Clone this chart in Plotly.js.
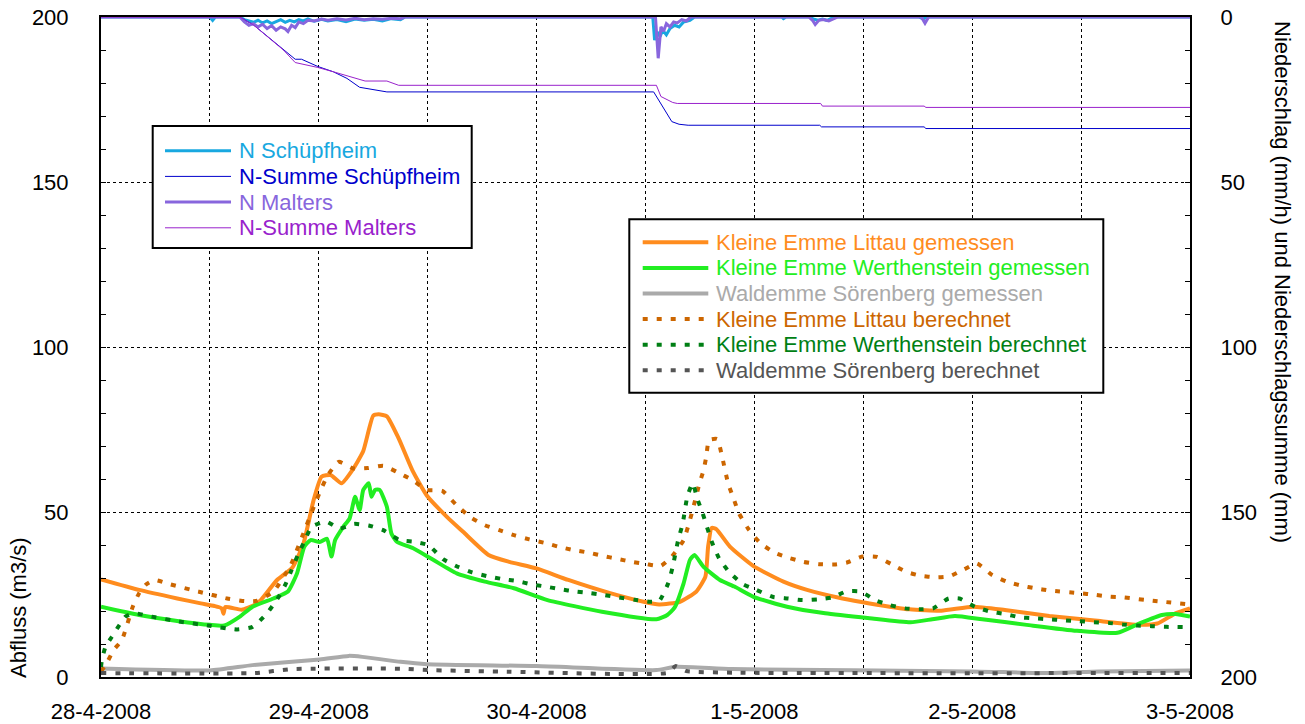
<!DOCTYPE html>
<html>
<head>
<meta charset="utf-8">
<script src="https://cdn.plot.ly/plotly-3.0.1.min.js"></script>
<style>html,body{margin:0;padding:0;background:#fff;}#chart{width:1305px;height:724px;}</style>
</head>
<body>
<div id="chart"></div>
<script>
// ---- data (hours after 28-4-2008 00:00) ----
const tickHours = [0, 12, 24, 36, 48, 60, 72, 84, 96, 108, 120];
const tickLabels = ['28-4-2008', '', '29-4-2008', '', '30-4-2008', '', '1-5-2008', '', '2-5-2008', '', '3-5-2008'];

const littauMeasH = [0, 4.2, 8.4, 11, 12.5, 13.3, 13.5, 13.7, 15.5, 16.9, 17.6, 19.4, 21.1, 22.3, 23.4, 24.3, 25.3, 26.5, 27.7, 28.9, 30, 30.6, 31.5, 32.8, 34.3, 35.9, 38.2, 39.9, 42.7, 45, 48, 51.5, 56.1, 59.8, 61.5, 63.8, 65.6, 66.6, 66.9, 67.3, 67.8, 69.3, 71.9, 75.2, 77.8, 81.7, 84.7, 89.1, 92.6, 96.1, 99.6, 104.5, 109.5, 114.4, 116.4, 118.4, 120];
const littauMeas  = [29.6, 26.4, 23.8, 22.3, 21.5, 20.8, 19.2, 21.2, 20.4, 21.8, 23.3, 29.4, 33.2, 40.3, 53.3, 60.7, 61.2, 58.7, 62.7, 68.5, 79.2, 79.6, 79.0, 72.3, 62.7, 55.0, 48.3, 44.0, 37.0, 34.9, 32.9, 29.4, 25.4, 22.8, 22.0, 22.8, 25.9, 30.4, 39.5, 45.2, 44.8, 39.5, 33.6, 28.9, 26.4, 23.8, 22.3, 20.5, 20.1, 21.3, 20.3, 18.5, 17.1, 15.8, 16.2, 19.3, 20.8];

const werthMeasH = [0, 4.2, 8.4, 12, 13.6, 15.3, 16.7, 19, 20.6, 21.6, 22.4, 23.1, 24.1, 24.9, 25.4, 25.8, 26.7, 27.4, 28, 28.5, 28.9, 29.5, 29.8, 30.2, 30.7, 31.5, 32, 32.6, 34.4, 36.6, 39.2, 42.3, 45.5, 49.2, 55.2, 61.2, 62.4, 63.2, 64.2, 64.9, 65.4, 66.4, 68.2, 69.8, 71.9, 75.6, 79.8, 84.7, 89.2, 91.6, 94.1, 97.1, 102, 107.5, 112, 114.4, 116.9, 118.4, 120];
const werthMeas  = [21.3, 18.8, 17.0, 15.8, 15.6, 18.3, 21.3, 23.8, 25.9, 31.4, 39.5, 41.5, 40.9, 41.9, 36.5, 41.5, 45.5, 48.1, 54.6, 50.6, 56.7, 58.7, 54.6, 56.7, 56.7, 51.6, 43.5, 41.0, 39.0, 35.5, 31.4, 28.9, 26.9, 23.3, 19.8, 17.5, 18.8, 21.0, 28.4, 35.5, 37.0, 33.4, 29.4, 27.4, 24.3, 21.3, 19.3, 17.8, 16.6, 17.5, 18.5, 17.5, 15.8, 14.0, 13.4, 16.2, 18.8, 19.1, 18.3];

const waldMeasH = [0, 12, 16.7, 24.1, 27.3, 28.8, 33, 35.9, 48, 61.2, 63.3, 69.5, 96, 104.5, 110, 120];
const waldMeas  = [2.6, 2.0, 3.6, 5.3, 6.4, 6.1, 4.6, 3.9, 3.3, 2.1, 3.1, 2.4, 1.7, 1.2, 1.7, 2.0];

const littauCalcH = [0, 0.7, 1.4, 2.3, 3.5, 4.2, 4.9, 5.9, 7.6, 10.7, 13.9, 15.8, 17.2, 19, 20.9, 22.3, 23.6, 24.3, 25, 26.2, 27.8, 29.4, 31.1, 32.7, 34.3, 35.9, 37.6, 39.1, 40.7, 42.3, 43.9, 45.5, 47.2, 48.8, 50.4, 52, 53.7, 55.3, 56.9, 58.5, 60.1, 61.7, 62.9, 64.2, 65.1, 65.9, 66.4, 66.7, 67, 67.9, 68.4, 69.1, 69.7, 70.3, 71.3, 72.6, 74.2, 75.8, 77.4, 79.1, 80.8, 82.2, 83.9, 85.5, 87.1, 88.7, 90.3, 92, 93.5, 95.1, 96.5, 98.2, 99.8, 101.4, 102.9, 104.5, 107.8, 109.5, 111.2, 112.7, 115.9, 120];
const littauCalc  = [1.6, 4.6, 8.2, 11.2, 21.3, 25.4, 27.9, 29.4, 28.1, 25.9, 23.8, 23.0, 23.1, 25.9, 33.9, 43.5, 52.6, 57.2, 61.2, 65.2, 63.2, 63.3, 64.0, 62.0, 59.7, 56.7, 56.4, 52.3, 48.4, 46.0, 44.5, 43.0, 41.7, 40.7, 39.5, 38.5, 37.7, 36.7, 35.8, 34.9, 34.2, 33.7, 36.5, 41.5, 49.6, 58.2, 62.7, 66.8, 71.8, 72.1, 67.3, 58.7, 54.1, 49.6, 45.0, 40.7, 37.7, 36.1, 34.9, 34.2, 34.1, 34.7, 36.5, 36.4, 34.2, 31.9, 30.7, 30.2, 30.5, 32.6, 34.4, 30.9, 28.9, 27.7, 26.9, 26.2, 25.4, 24.9, 24.3, 24.1, 23.1, 22.0];

const werthCalcH = [0, 0.1, 0.5, 1.2, 1.9, 2.7, 3.7, 5.6, 8.6, 11.8, 15, 16.7, 18.2, 19.4, 20.3, 21, 21.7, 22.4, 23.2, 24.8, 26.3, 27.9, 29.5, 31.1, 32.9, 34.5, 36.1, 37.7, 39.3, 40.9, 42.5, 44.2, 45.8, 47.4, 49, 50.6, 52.3, 53.9, 55.5, 57.1, 58.8, 60.4, 61.5, 62.5, 63, 63.6, 64.1, 64.6, 65.2, 65.7, 66.3, 67.3, 68.1, 69.2, 70.7, 72.2, 74, 75.7, 77.3, 79, 80.6, 82.1, 83.7, 85.3, 86.9, 88.6, 90.2, 91.7, 93.4, 94.6, 96.3, 98, 99.6, 101.2, 102.8, 104.4, 106, 107.8, 109.4, 111, 112.6, 114.2, 115.8, 117.4, 120];
const werthCalc  = [3.0, 5.2, 9.2, 12.2, 15.2, 18.3, 19.3, 18.3, 16.8, 15.6, 14.4, 15.2, 19.0, 23.5, 27.9, 32.4, 37.0, 41.0, 45.5, 47.1, 45.0, 46.4, 45.9, 44.5, 41.5, 41.0, 39.9, 35.7, 33.4, 31.7, 30.6, 29.7, 29.1, 28.1, 27.4, 26.6, 25.9, 25.4, 24.8, 24.1, 23.4, 22.8, 23.0, 28.4, 33.4, 41.5, 46.5, 54.6, 58.7, 54.1, 49.6, 41.0, 36.0, 31.9, 28.2, 26.4, 24.3, 23.8, 23.3, 23.5, 24.1, 25.9, 25.9, 23.3, 21.8, 20.8, 20.5, 20.8, 23.8, 23.8, 21.3, 19.8, 19.1, 18.1, 17.8, 17.5, 17.2, 16.9, 16.6, 16.4, 15.9, 15.6, 15.4, 15.2, 15.1];

const waldCalcH = [0, 17, 21, 33, 36, 45, 62.5, 63.3, 64.5, 70, 120];
const waldCalc  = [1.2, 1.2, 2.4, 2.5, 2.1, 1.6, 1.3, 3.3, 1.8, 1.3, 1.2];

// precipitation (right axis, reversed)
const nSchH = [0, 12, 12.3, 12.6, 15.3, 15.8, 16.3, 16.8, 17.3, 17.8, 18.3, 18.8, 19.3, 19.8, 20.3, 20.8, 21.3, 21.8, 22.3, 22.8, 23.5, 24.3, 25, 26, 27, 28, 29, 30, 31, 32, 33, 33.5, 60.8, 61.0, 61.3, 61.6, 61.9, 62.3, 62.7, 63.2, 63.7, 64.2, 64.9, 65.4, 75, 75.2, 75.5, 78, 78.5, 79, 79.5, 80, 80.5, 81.1, 90.1, 90.6, 91.1, 120];
const nSch  = [0, 0, 1.0, 0, 0, 0.8, 1.2, 1.6, 1.0, 1.8, 1.2, 2.0, 1.4, 0.8, 1.6, 1.0, 1.5, 0.8, 1.2, 0.6, 1.3, 0.7, 1.2, 0.8, 1.4, 0.6, 1.0, 0.7, 1.2, 0.5, 0.8, 0, 0, 7.0, 4.5, 6.0, 4.0, 5.4, 3.5, 2.5, 3.0, 1.5, 1.0, 0, 0, 0.5, 0, 0, 0.6, 1.0, 0.6, 1.0, 0.4, 0, 0, 0.6, 0, 0];

const nMalH = [0, 15.3, 15.8, 16.3, 16.8, 17.3, 17.8, 18.3, 18.8, 19.3, 19.8, 20.3, 20.6, 21.0, 21.4, 21.8, 22.3, 22.8, 23.5, 24.3, 25, 26, 27, 28, 29, 30, 31, 32, 33, 33.5, 61.1, 61.4, 61.7, 62.0, 62.3, 62.7, 63.1, 63.5, 64, 64.5, 65, 78, 78.4, 78.7, 79.1, 79.6, 80.2, 80.8, 81.2, 90.4, 90.8, 91.2, 120];
const nMal  = [0, 0, 1.5, 2.5, 2.0, 3.0, 2.2, 3.5, 2.6, 4.0, 3.0, 3.6, 4.4, 2.5, 3.2, 1.5, 2.0, 1.0, 1.2, 0.6, 1.0, 0.5, 0.9, 0.4, 0.8, 0.5, 0.7, 0.4, 0.5, 0, 0, 12.5, 3.0, 4.3, 2.0, 3.0, 1.5, 1.8, 0.8, 1.2, 0, 0, 1.0, 2.3, 1.0, 0.8, 1.2, 0.5, 0, 0, 1.9, 0, 0];

const sumSchH = [0, 15.3, 16.8, 18.6, 20.1, 21.4, 22.1, 23, 23.9, 25.6, 27.1, 28.5, 30, 31.5, 60.9, 61.9, 62.9, 63.7, 64.7, 79.2, 79.4, 90.7, 90.9, 120];
const sumSch  = [0, 0, 2.4, 6.5, 10.0, 12.8, 12.8, 14.0, 15.0, 16.6, 18.6, 21.3, 21.9, 22.7, 22.7, 27.2, 31.7, 32.5, 32.8, 32.8, 33.3, 33.3, 33.8, 33.8];

const sumMalH = [0, 15.3, 16.8, 18.6, 20.1, 21.4, 22.7, 23.9, 25.6, 27.4, 29.1, 31.5, 32.8, 61.2, 61.7, 63, 63.5, 79.3, 79.5, 90.7, 90.9, 120];
const sumMal  = [0, 0, 2.4, 6.5, 10.0, 13.8, 14.5, 15.3, 16.6, 18.1, 19.4, 19.4, 20.7, 20.7, 24.1, 25.9, 26.2, 26.2, 27.0, 27.0, 27.4, 27.4];

// ---- helpers ----
const T0 = Date.UTC(2008, 3, 28, 0, 0, 0);
function toDate(h) {
  return new Date(T0 + Math.round(h * 3600000)).toISOString().slice(0, 19).replace('T', ' ');
}
const dates = arr => arr.map(toDate);

const C = {
  littau: '#ff8c1e', werth: '#22ee22', wald: '#aaaaaa',
  littauC: '#cc6600', werthC: '#007f14', waldC: '#555555',
  nSch: '#18a8e0', sumSch: '#0000cc', nMal: '#8866dd', sumMal: '#9922cc'
};
const dotDash = '5px,9px';
const smooth = {shape: 'spline', smoothing: 0.5};

const traces = [
  {x: dates(littauMeasH), y: littauMeas, line: Object.assign({color: C.littau, width: 4}, smooth), name: 'Kleine Emme Littau gemessen'},
  {x: dates(werthMeasH), y: werthMeas, line: Object.assign({color: C.werth, width: 4}, smooth), name: 'Kleine Emme Werthenstein gemessen'},
  {x: dates(waldMeasH), y: waldMeas, line: Object.assign({color: C.wald, width: 4}, smooth), name: 'Waldemme Sörenberg gemessen'},
  {x: dates(littauCalcH), y: littauCalc, line: Object.assign({color: C.littauC, width: 4, dash: dotDash}, smooth), name: 'Kleine Emme Littau berechnet'},
  {x: dates(werthCalcH), y: werthCalc, line: Object.assign({color: C.werthC, width: 4, dash: dotDash}, smooth), name: 'Kleine Emme Werthenstein berechnet'},
  {x: dates(waldCalcH), y: waldCalc, line: Object.assign({color: C.waldC, width: 4, dash: dotDash}, smooth), name: 'Waldemme Sörenberg berechnet'},
  {x: dates(nSchH), y: nSch, yaxis: 'y2', line: {color: C.nSch, width: 3}, name: 'N Schüpfheim'},
  {x: dates(sumSchH), y: sumSch, yaxis: 'y2', line: {color: C.sumSch, width: 1}, name: 'N-Summe Schüpfheim'},
  {x: dates(nMalH), y: nMal, yaxis: 'y2', line: {color: C.nMal, width: 3}, name: 'N Malters'},
  {x: dates(sumMalH), y: sumMal, yaxis: 'y2', line: {color: C.sumMal, width: 1}, name: 'N-Summe Malters'}
];
traces.forEach(t => { t.mode = 'lines'; t.showlegend = false; });

// ---- legend boxes drawn from the trace styles ----
const PLOT = {l: 101, r: 1190, t: 17, b: 677};
const px2x = p => (p - PLOT.l) / (PLOT.r - PLOT.l);
const px2y = p => (PLOT.b - p) / (PLOT.b - PLOT.t);
const legends = [
  {items: [6, 7, 8, 9], box: [152.7, 126, 471.7, 248], line: [165, 231], textX: 237.5, row0: 150.7, rowStep: 25.7},
  {items: [0, 1, 2, 3, 4, 5], box: [629.3, 219.3, 1103.3, 392.7], line: [642.7, 708.3], textX: 715, row0: 242.3, rowStep: 25.6}
];
const FONT = 'Liberation Sans, Arial, sans-serif';
const FS = 22;
const shapes = [];
const annotations = [];
legends.forEach(L => {
  shapes.push({type: 'rect', xref: 'paper', yref: 'paper',
    x0: px2x(L.box[0]), x1: px2x(L.box[2]), y0: px2y(L.box[3]), y1: px2y(L.box[1]),
    line: {color: '#000', width: 2}, fillcolor: '#ffffff', layer: 'above'});
  L.items.forEach((ti, k) => {
    const t = traces[ti];
    const yy = px2y(L.row0 + k * L.rowStep);
    shapes.push({type: 'line', xref: 'paper', yref: 'paper',
      x0: px2x(L.line[0]), x1: px2x(L.line[1]), y0: yy, y1: yy,
      line: {color: t.line.color, width: Math.max(t.line.width, 1), dash: t.line.dash || 'solid'}});
    annotations.push({text: t.name, xref: 'paper', yref: 'paper', x: px2x(L.textX), y: yy,
      xanchor: 'left', yanchor: 'middle', showarrow: false, borderpad: 0,
      font: {family: FONT, size: FS, color: t.line.color}});
  });
});

annotations.push(
  {text: 'Abfluss (m3/s)', textangle: -90, xref: 'paper', yref: 'paper',
   x: px2x(18), y: px2y(608), xanchor: 'center', yanchor: 'middle', showarrow: false,
   font: {family: FONT, size: FS, color: '#000'}},
  {text: 'Niederschlag (mm/h) und Niederschlagssumme (mm)', textangle: 90, xref: 'paper', yref: 'paper',
   x: px2x(1283), y: px2y(282), xanchor: 'center', yanchor: 'middle', showarrow: false,
   font: {family: FONT, size: FS, color: '#000'}}
);

const layout = {
  width: 1305, height: 724,
  margin: {l: 101, r: 115, t: 17, b: 47},
  paper_bgcolor: '#ffffff', plot_bgcolor: '#ffffff',
  font: {family: FONT, size: FS, color: '#000'},
  showlegend: false,
  xaxis: {
    type: 'date', range: [toDate(0), toDate(120)],
    tickmode: 'array', tickvals: dates(tickHours), ticktext: tickLabels,
    showgrid: true, gridcolor: '#000', griddash: 'dot', gridwidth: 1,
    showline: true, linecolor: '#000', linewidth: 2, mirror: true,
    ticks: '', zeroline: false, ticklabelstandoff: 14,
    tickfont: {family: FONT, size: FS}
  },
  yaxis: {
    range: [0, 200], tickvals: [0, 50, 100, 150, 200],
    showgrid: true, gridcolor: '#000', griddash: 'dot', gridwidth: 1,
    showline: true, linecolor: '#000', linewidth: 2,
    ticks: 'inside', ticklen: 5, tickcolor: '#000',
    minor: {dtick: 10, ticks: 'inside', ticklen: 5, tickcolor: '#000', showgrid: false},
    zeroline: false, ticklabelstandoff: 26,
    tickfont: {family: FONT, size: FS}
  },
  yaxis2: {
    overlaying: 'y', side: 'right', range: [200, 0], tickvals: [0, 50, 100, 150, 200],
    showgrid: false, showline: true, linecolor: '#000', linewidth: 2,
    ticks: 'inside', ticklen: 5, tickcolor: '#000',
    minor: {dtick: 10, ticks: 'inside', ticklen: 5, tickcolor: '#000', showgrid: false},
    zeroline: false, ticklabelstandoff: 24,
    tickfont: {family: FONT, size: FS}
  },
  shapes: shapes,
  annotations: annotations
};

Plotly.newPlot('chart', traces, layout, {displayModeBar: false, staticPlot: true});
</script>
</body>
</html>
